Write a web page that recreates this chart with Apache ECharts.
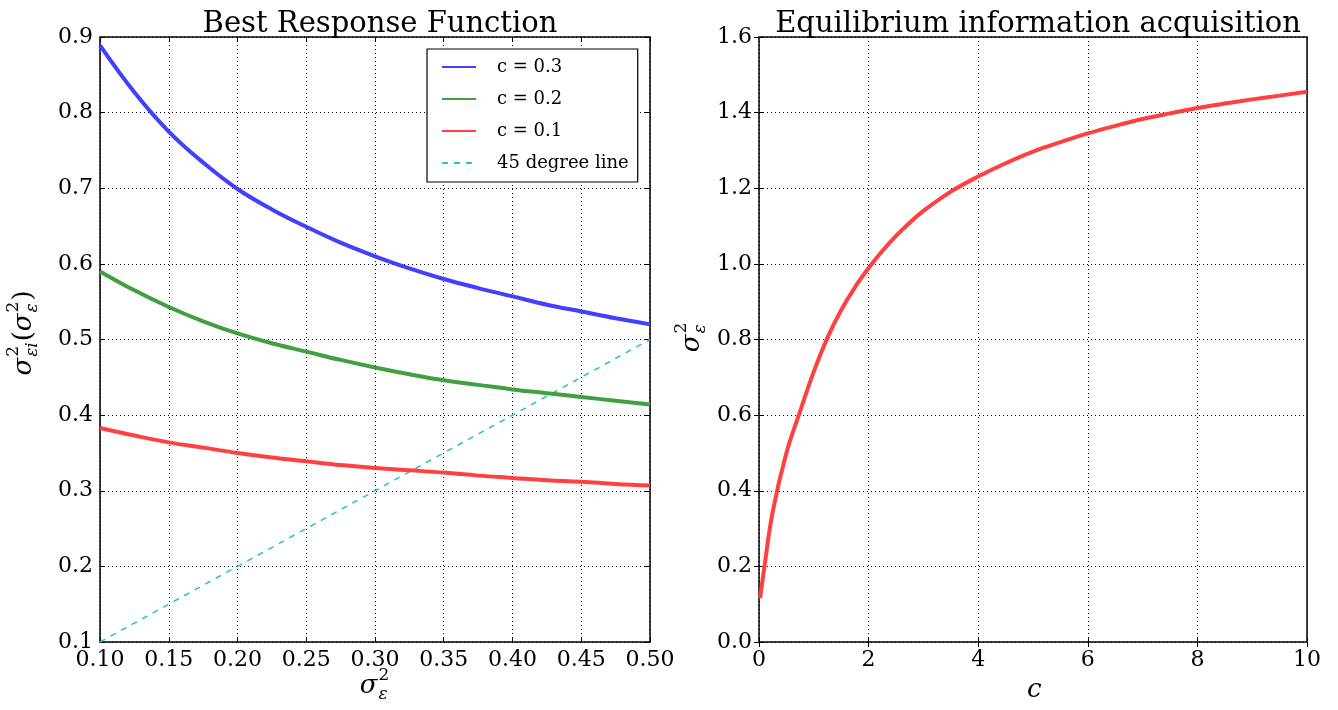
<!DOCTYPE html>
<html><head><meta charset="utf-8">
<script src="https://cdn.jsdelivr.net/npm/echarts@6/dist/echarts.min.js"></script>
<style>html,body{margin:0;padding:0;background:#fff}#c{width:1338px;height:710px}</style>
</head><body><div id="c"></div>
<script>
// ---- data ----
const brX   = [0.100, 0.125, 0.150, 0.175, 0.200, 0.225, 0.250, 0.275, 0.300, 0.325, 0.350, 0.375, 0.400, 0.425, 0.450, 0.475, 0.500];
const brC03 = [0.889, 0.827, 0.775, 0.734, 0.699, 0.672, 0.649, 0.628, 0.610, 0.594, 0.580, 0.568, 0.557, 0.546, 0.537, 0.528, 0.520];
const brC02 = [0.590, 0.565, 0.543, 0.524, 0.508, 0.495, 0.484, 0.473, 0.463, 0.454, 0.446, 0.440, 0.434, 0.429, 0.424, 0.419, 0.414];
const brC01 = [0.383, 0.373, 0.364, 0.357, 0.350, 0.344, 0.339, 0.334, 0.330, 0.327, 0.324, 0.320, 0.317, 0.314, 0.312, 0.309, 0.307];
const diagX = [0.10, 0.50];
const diagY = [0.10, 0.50];
const eqC = [0.02, 0.10, 0.25, 0.50, 0.75, 1.00, 1.25, 1.50, 1.75, 2.00, 2.25, 2.50, 2.75, 3.00, 3.50, 4.00, 4.50, 5.00, 5.50, 6.00, 6.50, 7.00, 7.50, 8.00, 8.50, 9.00, 9.50, 10.00];
const eqS = [0.116, 0.200, 0.345, 0.500, 0.610, 0.715, 0.805, 0.878, 0.938, 0.989, 1.034, 1.074, 1.109, 1.140, 1.191, 1.231, 1.266, 1.297, 1.322, 1.345, 1.365, 1.383, 1.398, 1.412, 1.424, 1.435, 1.445, 1.455];
const seriesNames = ['c = 0.3', 'c = 0.2', 'c = 0.1', '45 degree line'];
const titles = ['Best Response Function', 'Equilibrium information acquisition'];

const FONT = 'DejaVu Serif';
const zip = (xs, ys) => xs.map((x, i) => [x, ys[i]]);
const chart = echarts.init(document.getElementById('c'));

const ctx = document.createElement('canvas').getContext('2d');
function tw(text, font) { ctx.font = font; return ctx.measureText(text).width; }
function txt(x, y, text, font) {
  return {type: 'text', x, y, style: {text, font, fill: '#000', textAlign: 'left', textVerticalAlign: 'middle', align: 'left', verticalAlign: 'middle'}};
}
function mathGroup(tokens, cx, cy, rot, big, small) {
  const children = []; let x = 0;
  tokens.forEach(tk => {
    if (tk.b !== undefined) {
      const f = (tk.it ? 'italic ' : '') + big + 'px "' + FONT + '"';
      children.push(txt(x, 0, tk.b, f));
      x += tw(tk.b, f);
    } else {
      const fs = small + 'px "' + FONT + '"', fi = 'italic ' + small + 'px "' + FONT + '"';
      x += 1;
      children.push(txt(x, -big * 0.42, tk.sup, fs));
      children.push(txt(x, big * 0.32, tk.sub, fi));
      x += Math.max(tw(tk.sup, fs), tw(tk.sub, fi)) + 1;
    }
  });
  children.forEach(c => { c.x -= x / 2; });
  return {type: 'group', x: cx, y: cy, rotation: rot, children};
}

const split = {show: true, lineStyle: {color: '#000', width: 1, type: [1, 3]}};
const tick = {show: true, inside: true, length: 5, lineStyle: {color: '#000', width: 1}};
const lab = (fmt) => ({show: true, color: '#000', fontFamily: FONT, fontSize: 22, margin: 7, formatter: fmt});
function mkAxis(grid, min, max, interval, fmt, pos, main) {
  return {type: 'value', gridIndex: grid, min, max, interval, position: pos,
    axisLine: {show: false}, axisTick: tick,
    axisLabel: main ? lab(fmt) : {show: false},
    splitLine: main ? split : {show: false}};
}
function lineSeries(name, xi, yi, data, color, width, type, smooth, z) {
  return {name, type: 'line', xAxisIndex: xi, yAxisIndex: yi, data, smooth, showSymbol: false, symbol: 'none',
    lineStyle: {color, width, type}, itemStyle: {color}, z};
}

const option = {
  backgroundColor: '#fff',
  animation: false,
  title: [
    {text: titles[0], left: 375, top: 5, textAlign: 'center', textStyle: {fontFamily: FONT, fontSize: 29, fontWeight: 'normal', color: '#000'}},
    {text: titles[1], left: 1033, top: 5, textAlign: 'center', textStyle: {fontFamily: FONT, fontSize: 29, fontWeight: 'normal', color: '#000'}}
  ],
  grid: [
    {left: 100, right: 688, top: 37, bottom: 68, show: true, borderColor: '#000', borderWidth: 1.5, backgroundColor: 'transparent'},
    {left: 759, right: 31, top: 37, bottom: 68, show: true, borderColor: '#000', borderWidth: 1.5, backgroundColor: 'transparent'}
  ],
  xAxis: [
    mkAxis(0, 0.1, 0.5, 0.05, v => v.toFixed(2), 'bottom', true),
    mkAxis(0, 0.1, 0.5, 0.05, null, 'top', false),
    mkAxis(1, 0, 10, 2, v => String(v), 'bottom', true),
    mkAxis(1, 0, 10, 2, null, 'top', false)
  ],
  yAxis: [
    mkAxis(0, 0.1, 0.9, 0.1, v => v.toFixed(1), 'left', true),
    mkAxis(0, 0.1, 0.9, 0.1, null, 'right', false),
    mkAxis(1, 0, 1.6, 0.2, v => v.toFixed(1), 'left', true),
    mkAxis(1, 0, 1.6, 0.2, null, 'right', false)
  ],
  legend: {
    orient: 'vertical', left: 427, top: 49, padding: [9, 9, 10, 14],
    itemWidth: 34, itemHeight: 14, itemGap: 14,
    borderColor: '#000', borderWidth: 1.2, backgroundColor: '#fff',
    itemStyle: {opacity: 0},
    data: seriesNames,
    textStyle: {fontFamily: FONT, fontSize: 18, color: '#000', padding: [0, 0, 0, 16]}
  },
  series: [
    lineSeries(seriesNames[0], 0, 0, zip(brX, brC03), '#4040ff', 4, 'solid', 0.4, 3),
    lineSeries(seriesNames[1], 0, 0, zip(brX, brC02), '#40a040', 4, 'solid', 0.4, 3),
    lineSeries(seriesNames[2], 0, 0, zip(brX, brC01), '#ff4040', 4, 'solid', 0.4, 3),
    lineSeries(seriesNames[3], 0, 0, zip(diagX, diagY), '#22c4c4', 1.5, [6, 6], false, 2),
    lineSeries('eq', 2, 2, zip(eqC, eqS), '#ff4040', 4, 'solid', 0.4, 3)
  ],
  graphic: {elements: [
    mathGroup([{b: 'σ', it: true}, {sup: '2', sub: 'ε'}], 375, 686, 0, 26, 17),
    mathGroup([{b: 'σ', it: true}, {sup: '2', sub: 'εi'}, {b: '('}, {b: 'σ', it: true}, {sup: '2', sub: 'ε'}, {b: ')'}], 24, 333, Math.PI / 2, 26, 17),
    mathGroup([{b: 'σ', it: true}, {sup: '2', sub: 'ε'}], 692, 337, Math.PI / 2, 26, 17),
    txt(1027, 690, 'c', 'italic 26px "' + FONT + '"')
  ]}
};
chart.setOption(option);
</script>
</body></html>
